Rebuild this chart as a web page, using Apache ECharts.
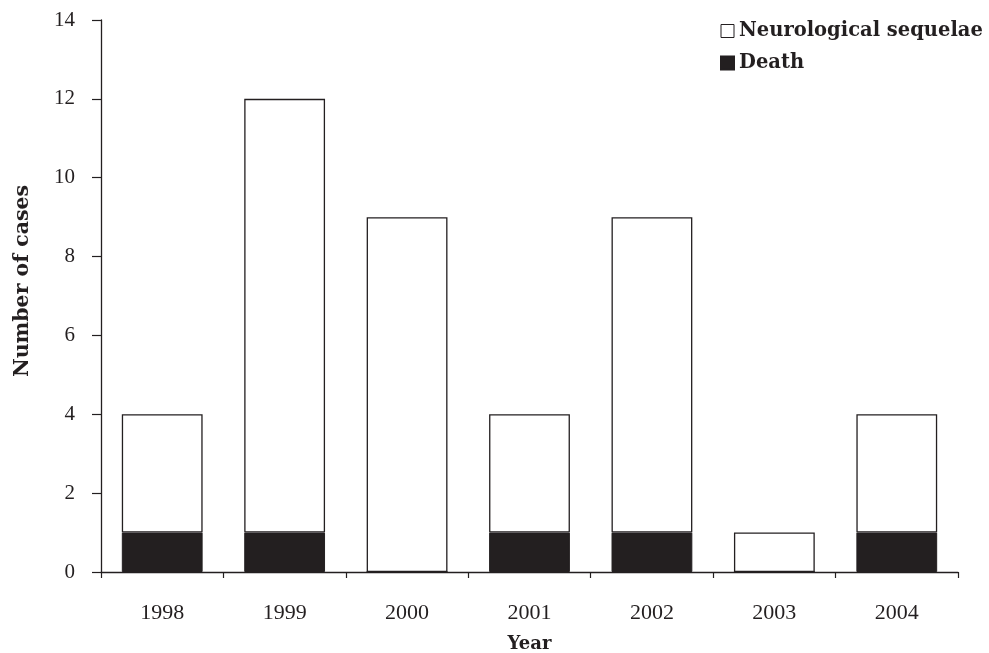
<!DOCTYPE html>
<html><head><meta charset="utf-8">
<script src="https://cdn.jsdelivr.net/npm/echarts@6/dist/echarts.min.js"></script>
<style>html,body{margin:0;padding:0;background:#fff}#c{width:989px;height:653px}</style>
</head><body><div id="c"></div>
<script>
const years = ['1998','1999','2000','2001','2002','2003','2004'];
const death = [1, 1, 0, 1, 1, 0, 1];
const neuro = [3, 11, 9, 3, 8, 1, 3];
const yTicks = [0, 2, 4, 6, 8, 10, 12, 14];

const serif = 'Liberation Serif';
const boldSerif = 'DejaVu Serif';
const ink = '#231f20';
const chart = echarts.init(document.getElementById('c'));
chart.setOption({
  animation: false,
  backgroundColor: '#fff',
  grid: { left: 101, right: 31, top: 20, bottom: 81, outerBoundsMode: 'none', containLabel: false },
  legend: {
    orient: 'vertical', left: 715, top: 16, itemGap: 12, padding: 5,
    itemWidth: 13, itemHeight: 13, icon: 'rect',
    textStyle: { fontFamily: boldSerif, fontSize: 19.5, fontWeight: 'bold', color: ink },
    data: [
      { name: 'Neurological sequelae', itemStyle: { color: '#fff', borderColor: ink, borderWidth: 1 } },
      { name: 'Death', itemStyle: { color: ink } }
    ]
  },
  xAxis: {
    type: 'category', data: years,
    name: 'Year', nameLocation: 'middle', nameGap: 63,
    nameTextStyle: { fontFamily: boldSerif, fontSize: 18, fontWeight: 'bold', color: ink },
    axisLine: { lineStyle: { color: ink, width: 1.3 } },
    axisTick: { show: true, length: 6, lineStyle: { color: ink, width: 1.2 }, alignWithLabel: false },
    axisLabel: { fontFamily: serif, fontSize: 22, color: ink, margin: 30 }
  },
  yAxis: {
    type: 'value', min: yTicks[0], max: yTicks[yTicks.length - 1], interval: 2,
    name: 'Number of cases', nameLocation: 'middle', nameGap: 68, nameRotate: 90,
    nameTextStyle: { fontFamily: boldSerif, fontSize: 20.5, fontWeight: 'bold', color: ink, padding: [0, 0, 0, 30] },
    axisLine: { show: true, lineStyle: { color: ink, width: 1.3 } },
    axisTick: { show: true, length: 9, lineStyle: { color: ink, width: 1.2 } },
    splitLine: { show: false },
    axisLabel: { fontFamily: serif, fontSize: 21, color: ink, margin: 26 }
  },
  series: [
    { name: 'Death', type: 'bar', stack: 'a', data: death, barCategoryGap: '34%',
      itemStyle: { color: ink, borderColor: ink, borderWidth: 1 } },
    { name: 'Neurological sequelae', type: 'bar', stack: 'a', data: neuro, barCategoryGap: '34%',
      itemStyle: { color: '#fff', borderColor: ink, borderWidth: 1.3 } }
  ]
});
</script></body></html>
